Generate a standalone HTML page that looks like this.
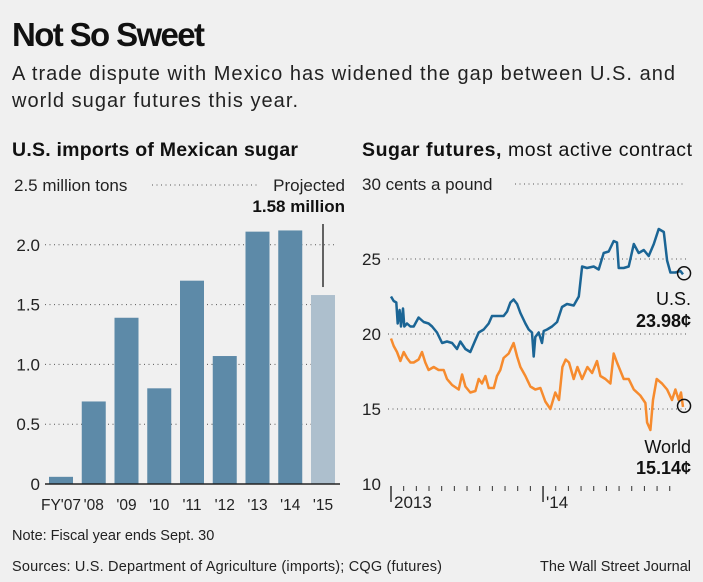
<!DOCTYPE html>
<html><head><meta charset="utf-8"><style>
body{margin:0;background:#f0f0f0;}
svg{display:block;font-family:"Liberation Sans",sans-serif;}
</style></head><body>
<svg width="703" height="582" viewBox="0 0 703 582">
<rect width="703" height="582" fill="#f0f0f0"/>
<text x="12" y="46" font-size="33" font-weight="bold" fill="#111" textLength="193">Not So Sweet</text>
<text x="12" y="80" font-size="20" fill="#222" textLength="663">A trade dispute with Mexico has widened the gap between U.S. and</text>
<text x="12" y="107" font-size="20" fill="#222" textLength="286">world sugar futures this year.</text>
<text x="12" y="156" font-size="19.5" font-weight="bold" fill="#111" textLength="286">U.S. imports of Mexican sugar</text>
<text x="362" y="156" font-size="19.5" fill="#111" textLength="330"><tspan font-weight="bold">Sugar futures,</tspan> most active contract</text>
<g id="bars"></g>
<g id="lines"></g>
<text x="12" y="540" font-size="14.5" fill="#222">Note: Fiscal year ends Sept. 30</text>
<text x="12" y="571" font-size="14.5" fill="#222" textLength="430">Sources: U.S. Department of Agriculture (imports); CQG (futures)</text>
<text x="691" y="571" font-size="14.5" fill="#222" text-anchor="end">The Wall Street Journal</text>
</svg>
<script>
const barCats=["FY'07","'08","'09","'10","'11","'12","'13","'14","'15"];
const barVals=[0.06,0.69,1.39,0.80,1.70,1.07,2.11,2.12,1.58];
const barTicks=[0,0.5,1.0,1.5,2.0,2.5];
const barTickLabels=["0","0.5","1.0","1.5","2.0","2.5 million tons"];

const usMonths=[0,0.21,0.42,0.53,0.68,0.79,0.95,1.05,1.26,1.53,1.79,2.18,2.58,2.97,3.24,3.63,4.03,4.42,4.82,5.21,5.47,5.87,6.26,6.66,6.92,7.32,7.71,7.97,8.37,8.89,9.16,9.42,9.68,9.95,10.21,10.61,10.87,11.13,11.26,11.39,11.66,11.92,12.05,12.32,12.71,13.11,13.5,13.89,14.42,14.82,15.08,15.47,16.0,16.39,16.79,17.18,17.58,17.84,17.97,18.37,18.76,19.16,19.55,19.95,20.34,20.74,21.13,21.53,21.79,22.05,22.45,22.84,23.05];
const usVals=[22.5,22.2,22.1,20.7,21.6,20.5,21.7,20.5,20.7,20.5,20.5,21.1,20.8,20.7,20.5,20.1,19.4,19.5,19.4,19.0,19.5,19.0,18.8,19.6,20.1,20.3,20.7,21.2,21.2,21.2,21.5,22.1,22.3,22.0,21.4,20.7,20.3,20.1,18.5,19.8,20.1,19.4,20.2,20.3,20.5,20.8,21.8,22.0,21.9,22.5,24.5,24.4,24.5,24.3,25.4,25.5,26.2,26.1,24.4,24.4,24.5,26.0,25.4,25.6,25.2,26.0,27.0,26.8,24.9,24.1,24.1,24.2,23.98];
const worldMonths=[0,0.21,0.47,0.74,1.0,1.26,1.53,1.79,2.18,2.45,2.71,2.97,3.37,3.76,4.16,4.42,4.82,5.34,5.61,5.87,6.26,6.66,6.92,7.18,7.45,7.71,8.11,8.37,8.63,8.89,9.29,9.68,9.95,10.21,10.61,11.0,11.39,11.79,12.18,12.58,12.97,13.26,13.53,13.79,14.05,14.42,14.71,15.08,15.5,15.87,16.26,16.53,16.92,17.32,17.58,17.84,18.37,18.76,19.16,19.68,20.08,20.21,20.47,20.68,20.97,21.39,21.79,22.18,22.45,22.71,22.89,23.05];
const worldVals=[19.7,19.2,18.8,18.2,18.8,18.4,18.1,18.1,18.3,18.8,18.1,17.6,17.8,17.6,17.6,17.0,16.6,16.3,17.3,16.5,16.1,16.2,17.0,16.7,17.2,16.4,16.4,17.2,17.6,18.4,18.7,19.4,18.5,17.8,17.2,16.5,16.3,16.4,15.5,15.0,16.1,15.6,17.8,18.3,18.1,17.0,17.8,17.0,17.8,17.4,18.2,17.2,17.0,16.7,18.7,18.1,17.0,17.0,16.3,15.9,15.4,14.1,13.6,15.6,17.0,16.7,16.3,15.6,16.3,15.6,16.1,15.14];
const lineTicks=[10,15,20,25,30];
const lineTickLabels=["10","15","20","25","30 cents a pound"];
const monthCount=23;

const NS="http://www.w3.org/2000/svg";
function mk(tag,attrs,parent,txt){const e=document.createElementNS(NS,tag);for(const k in attrs)e.setAttribute(k,attrs[k]);if(txt!==undefined)e.textContent=txt;parent.appendChild(e);return e;}

// bar chart
const bg=document.getElementById('bars');
const by=v=>484-v*119.6;
const bx=i=>49+i*32.75;
barTicks.forEach((t,i)=>{
  if(t>0){
    const g=mk('line',{x1:i===5?152:45,x2:i===5?260:337,y1:by(t),y2:by(t),stroke:'#555','stroke-dasharray':'1 3.5','stroke-width':1},bg);
    
    
  }
  const lb=mk('text',{x:i===5?14:40,y:by(t)+6,'font-size':17,fill:'#222','text-anchor':i===5?'start':'end'},bg,barTickLabels[i]);
  
  
});
barVals.forEach((v,i)=>{
  const r=mk('rect',{x:bx(i),y:by(v),width:24,height:484-by(v),fill:i===8?'#adbfcd':'#5d8aa8'},bg);
  
  
  const t=mk('text',{x:bx(i)+12,y:510,'font-size':15.5,fill:'#222','text-anchor':'middle'},bg,barCats[i]);
  
  
});
const base=mk('line',{x1:45,x2:340,y1:484,y2:484,stroke:'#222','stroke-width':1.5},bg);


const lead=mk('line',{x1:bx(8)+12,x2:bx(8)+12,y1:224,y2:by(barVals[8])-8,stroke:'#333','stroke-width':1.5},bg);


const p1=mk('text',{x:345,y:191,'font-size':17,fill:'#222','text-anchor':'end'},bg,'Projected');


const p2=mk('text',{x:345,y:212,'font-size':17,'font-weight':'bold',fill:'#111','text-anchor':'end'},bg,'1.58 million');



// line chart
const lg=document.getElementById('lines');
const ly=v=>484-(v-10)*15;
const lx=m=>391+m*12.67;
lineTicks.forEach((t,i)=>{
  if(t>10){
    const g=mk('line',{x1:i===4?515:388,x2:686,y1:ly(t),y2:ly(t),stroke:'#555','stroke-dasharray':'1 3.5','stroke-width':1},lg);
    
    
  }
  const lb=mk('text',{x:362,y:ly(t)+6,'font-size':17,fill:'#222'},lg,lineTickLabels[i]);
  
  
});
for(let m=0;m<monthCount;m++){
  const major=(m%12===0);
  const tk=mk('line',{x1:lx(m),x2:lx(m),y1:486,y2:major?502:491,stroke:'#333','stroke-width':major?1.5:1},lg);
  
  
}
const y1=mk('text',{x:lx(0)+3,y:508,'font-size':17,fill:'#222'},lg,'2013');


const y2=mk('text',{x:lx(12)+3,y:508,'font-size':17,fill:'#222'},lg,"'14");


function path(ms,vs){const n=Math.min(ms.length,vs.length);let d='';for(let i=0;i<n;i++)d+=(i?'L':'M')+lx(ms[i]).toFixed(1)+','+ly(vs[i]).toFixed(1);return d;}
const wl=mk('path',{d:path(worldMonths,worldVals),fill:'none',stroke:'#f68b2e','stroke-width':2.5,'stroke-linejoin':'round'},lg);


const ul=mk('path',{d:path(usMonths,usVals),fill:'none',stroke:'#1b6595','stroke-width':2.5,'stroke-linejoin':'round'},lg);


const uc=mk('circle',{cx:lx(usMonths[usMonths.length-1])+1,cy:ly(usVals[usVals.length-1])-1,r:6.5,fill:'none',stroke:'#111','stroke-width':1.5},lg);


const wc=mk('circle',{cx:lx(worldMonths[worldMonths.length-1])+1,cy:ly(worldVals[worldVals.length-1])-1,r:6.5,fill:'none',stroke:'#111','stroke-width':1.5},lg);


[['U.S.',305,false,'us-label'],['23.98¢',327,true,'us-value'],['World',453,false,'world-label'],['15.14¢',474,true,'world-value']].forEach(a=>{
  const t=mk('text',{x:691,y:a[1],'font-size':18,'font-weight':a[2]?'bold':'normal',fill:'#111','text-anchor':'end'},lg,a[0]);
  
  
});
</script>
</body></html>
